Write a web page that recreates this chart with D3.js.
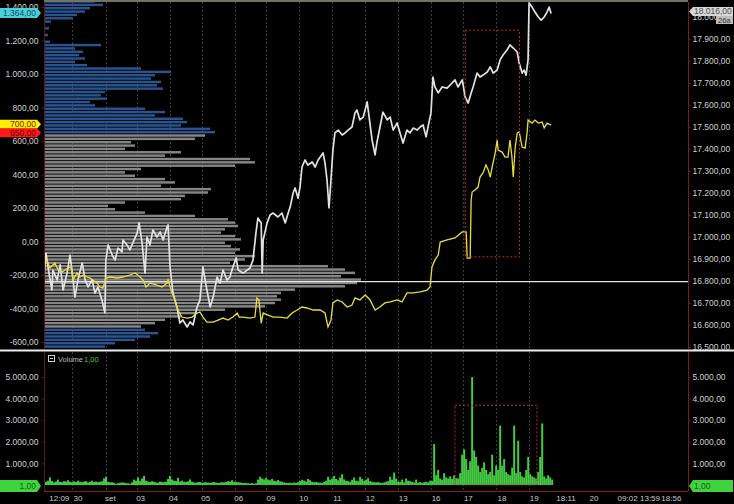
<!DOCTYPE html>
<html><head><meta charset="utf-8">
<script src="https://cdn.jsdelivr.net/npm/d3@7"></script>
<style>
html,body{margin:0;padding:0;background:#000;}
svg{display:block;font-family:"Liberation Sans",Arial,sans-serif;}
</style>
</head><body>
<svg id="chart" width="734" height="504"></svg>
<script>
// ---- price series (time in session units, value in index points) ----
const whiteT = [0,0.06,0.12,0.24,0.27,0.40,0.49,0.58,0.70,0.79,0.85,0.94,1.03,1.16,1.25,1.34,1.46,1.55,1.64,1.76,1.85,1.88,1.95,2.07,2.16,2.25,2.37,2.40,2.52,2.61,2.71,2.83,2.89,2.98,3.07,3.13,3.22,3.31,3.43,3.53,3.62,3.74,3.77,3.83,3.92,4.04,4.13,4.22,4.35,4.44,4.53,4.65,4.74,4.83,4.95,5.05,5.14,5.26,5.35,5.44,5.56,5.65,5.74,5.84,5.90,6.05,6.26,6.35,6.44,6.50,6.60,6.63,6.66,6.78,6.87,6.96,7.11,7.23,7.33,7.42,7.48,7.57,7.63,7.72,7.78,7.84,7.93,8.02,8.15,8.24,8.33,8.48,8.54,8.60,8.66,8.72,8.78,8.84,8.94,9.06,9.15,9.24,9.36,9.45,9.51,9.60,9.70,9.82,9.88,9.97,10.06,10.12,10.21,10.30,10.43,10.52,10.61,10.73,10.82,10.91,11.03,11.12,11.22,11.34,11.43,11.52,11.61,11.67,11.76,11.82,11.88,11.98,12.10,12.25,12.40,12.49,12.58,12.71,12.80,12.89,12.98,13.04,13.16,13.25,13.34,13.47,13.56,13.65,13.77,13.86,13.95,14.07,14.16,14.26,14.38,14.44,14.53,14.59,14.65,14.71,14.74,14.83,14.92,15.02,15.11,15.20,15.29,15.35,15.41];
const whiteV = [16818,16927,16864,16759,16850,16805,16873,16759,16836,16918,16850,16727,16805,16882,16805,16773,16805,16745,16773,16714,16655,16895,16964,16918,16895,16950,16932,16986,16964,16941,16977,17018,17064,16973,16836,17000,16964,17032,17000,17023,16986,17045,17055,16864,16745,16682,16609,16623,16591,16614,16600,16682,16714,16864,16759,16682,16727,16818,16791,16850,16805,16818,16864,16905,16850,16836,16859,16895,17018,17086,17064,16836,16986,17064,17100,17109,17091,17109,17064,17109,17136,17200,17223,17177,17227,17318,17350,17327,17341,17318,17350,17382,17336,17259,17132,17259,17395,17473,17486,17464,17473,17486,17500,17564,17577,17532,17545,17614,17545,17441,17373,17432,17500,17568,17532,17545,17486,17518,17473,17427,17486,17473,17495,17486,17500,17509,17455,17500,17564,17727,17682,17655,17682,17677,17700,17714,17682,17714,17636,17609,17655,17682,17745,17727,17736,17750,17773,17745,17759,17805,17827,17850,17873,17859,17841,17791,17745,17759,17736,17805,18064,18045,18023,18000,17986,18000,18023,18045,18016];

// ---- spread series (left scale) ----
const yellowT = [0,0.09,0.18,0.33,0.43,0.55,0.64,0.73,0.82,0.88,1.00,1.09,1.19,1.31,1.40,1.49,1.61,1.70,1.79,1.88,2.01,2.22,2.40,2.61,2.77,2.92,3.01,3.10,3.22,3.43,3.59,3.74,3.77,3.89,3.98,4.07,4.19,4.35,4.50,4.65,4.74,4.83,4.95,5.14,5.29,5.44,5.59,5.74,5.87,5.93,6.05,6.26,6.41,6.47,6.53,6.60,6.66,6.81,6.96,7.17,7.39,7.54,7.69,7.84,7.99,8.18,8.39,8.54,8.63,8.72,8.78,8.91,9.06,9.21,9.36,9.45,9.60,9.76,9.91,10.06,10.21,10.36,10.52,10.73,10.88,11.03,11.22,11.43,11.64,11.73,11.79,11.88,11.98,12.04,12.25,12.49,12.71,12.83,12.86,12.95,12.98,13.01,13.10,13.19,13.25,13.34,13.43,13.50,13.56,13.62,13.71,13.77,13.80,13.92,14.01,14.10,14.16,14.22,14.26,14.32,14.38,14.44,14.53,14.62,14.68,14.71,14.83,14.92,15.02,15.14,15.20,15.29,15.41];
const yellowV = [-122,-110,-158,-128,-170,-182,-170,-158,-152,-230,-188,-212,-200,-212,-218,-230,-248,-272,-278,-218,-212,-218,-212,-200,-188,-212,-230,-272,-248,-260,-272,-248,-230,-307,-349,-409,-451,-457,-451,-427,-421,-451,-481,-481,-469,-457,-469,-451,-427,-451,-451,-457,-451,-337,-349,-487,-427,-439,-451,-451,-457,-427,-409,-391,-397,-409,-409,-427,-510,-469,-367,-349,-361,-391,-379,-337,-349,-319,-349,-409,-391,-367,-361,-349,-361,-307,-307,-301,-290,-272,-152,-110,-81,-3,9,21,57,57,-99,-99,248,295,307,325,385,409,457,427,385,445,528,606,546,534,504,504,606,504,385,564,648,654,564,558,648,725,707,725,707,713,678,707,695];

// ---- volume profile: levels (top of each 20-point row) and traded lots ----
const profileTop = 1440;
const profileStep = 20;
const profileLots = [50,58,45,40,32,28,6,0,4,0,3,0,5,56,30,38,34,40,30,42,96,126,110,106,116,112,118,60,56,62,45,50,100,120,110,138,142,136,165,170,
  160,150,86,90,80,136,120,205,210,190,96,80,90,120,130,116,166,163,140,136,80,63,70,100,150,183,190,193,180,176,190,196,180,186,195,190,210,200,185,283,300,310,296,316,312,300,250,236,232,236,230,220,180,150,136,120,110,96,
  100,113,105,90,70,60];
const valueAreaHigh = 640;
const valueAreaLow = -500;
const pocLevel = -240;

// ---- volume bars (one bar per volumeStep time units) ----
const volumeStep = 0.0608;
const volume = [
 150,200,350,180,120,160,250,140,130,180,
 160,220,150,130,170,140,200,150,130,160,
 180,120,150,200,140,160,130,150,170,300,
 380,150,120,130,100,60,80,100,120,110,
 90,80,60,120,250,200,350,180,300,420,
 200,160,140,180,150,120,110,160,140,130,
 150,280,420,250,200,180,330,160,200,150,
 140,170,260,150,120,110,130,140,100,120,
 130,110,100,120,140,110,90,110,130,120,
 140,180,160,220,150,140,130,120,100,90,
 100,80,70,90,60,80,250,380,300,260,
 320,250,220,280,200,180,230,170,150,120,
 100,90,110,80,120,100,130,180,240,200,
 160,280,220,150,130,140,120,110,100,150,
 200,380,250,300,420,280,220,350,500,260,
 200,180,150,240,350,200,180,380,280,200,
 250,320,180,150,130,120,140,100,90,120,
 150,180,380,250,580,300,160,140,250,120,
 300,200,180,150,120,250,110,140,100,130,
 150,120,200,180,1900,450,700,300,250,550,
 350,300,400,280,450,320,300,550,1400,1650,
 1200,700,1100,5000,1600,1300,900,600,800,1050,
 700,500,600,1400,450,900,700,2750,900,1200,
 600,500,450,800,2750,550,2050,600,400,350,
 700,1300,500,400,350,300,600,1300,2850,400,
 300,450,350,250];

// ---- time axis ----
const dayLinesT = [0.85,1.88,2.82,3.82,4.79,5.79,6.76,7.76,8.76,9.76,10.76,11.76,12.73,13.73,14.73];
const timeTickT = [0.45,1.02,2.0,2.92,3.92,4.9,5.9,6.88,7.88,8.9,9.9,10.9,11.9,12.88,13.9,14.88,15.85,16.7,17.72,18.4,19.05];
const timeTickLabels = ["12:09","30","set","03","04","05","06","09","10","11","12","13","16","17","18","19","18:11","20","09:02","13:59","18:56"];

// ---- axis ticks ----
const leftTicks = [1400,1200,1000,800,600,400,200,0,-200,-400,-600];
const rightTicks = [16500,16600,16700,16800,16900,17000,17100,17200,17300,17400,17500,17600,17700,17800,17900,18000];
const volumeTicks = [1000,2000,3000,4000,5000];

// ---- highlighted zones ----
const zoneT = [12.8, 14.45];
const zoneIndex = [16910, 17940];
const zoneVolumeT = [12.49, 14.98];
const zoneVolume = [0, 3690];

// ---- marker labels ----
const whiteLast = 18016;
const whiteMarkLeft = 1364;
const yellowMark = 700;
const redMark = 650;

const svg = d3.select("#chart");
const X0 = 44, X1 = 688;
const x = d3.scaleLinear().domain([0, 19.57]).range([X0, X1]);
const yL = d3.scaleLinear().domain([-600, 1400]).range([342, 7]);
const yR = d3.scaleLinear().domain([16500, 17900]).range([347, 39]);
const yV = d3.scaleLinear().domain([0, 5000]).range([485, 377]);
const profW = d3.scaleLinear().domain([0, 400]).range([0, 400]);

const loc = d3.formatLocale({decimal: ",", thousands: ".", grouping: [3], currency: ["", ""], minus: "-"});
const fmt = loc.format(",.2f");

svg.append("rect").attr("width", 734).attr("height", 504).attr("fill", "#000");

const defs = svg.append("defs");
defs.append("clipPath").attr("id", "mainClip").append("rect")
  .attr("x", X0 + 1).attr("y", 2).attr("width", X1 - X0 - 1).attr("height", 347);

const MAIN_TOP = 2, MAIN_BOT = 349, VOL_TOP = 352, VOL_BOT = 491;

// day separators
const grid = svg.append("g").attr("stroke", "#3c3c3c").attr("stroke-dasharray", "2,2").attr("stroke-width", 1);
dayLinesT.forEach(t => {
  const xx = Math.round(x(t)) + 0.5;
  grid.append("line").attr("x1", xx).attr("x2", xx).attr("y1", MAIN_TOP).attr("y2", MAIN_BOT);
  grid.append("line").attr("x1", xx).attr("x2", xx).attr("y1", VOL_TOP).attr("y2", VOL_BOT);
});

// volume profile
const main = svg.append("g").attr("clip-path", "url(#mainClip)");
main.append("g").selectAll("rect")
  .data(profileLots.map((v, i) => ({lvl: profileTop - i * profileStep, v})))
  .join("rect")
  .attr("x", X0 + 1)
  .attr("y", d => yL(d.lvl))
  .attr("height", d => yL(d.lvl - profileStep) - yL(d.lvl) - 0.9)
  .attr("width", d => profW(d.v))
  .attr("fill", d => (d.lvl > valueAreaHigh || d.lvl < valueAreaLow) ? "#2a5490" : "#858585");

// point of control
main.append("line").attr("x1", X0).attr("x2", X1)
  .attr("y1", yL(pocLevel)).attr("y2", yL(pocLevel))
  .attr("stroke", "#e4e4e4").attr("stroke-width", 1.3);

// price lines
const whiteLine = d3.line().x(d => x(d[0])).y(d => yR(d[1]));
main.append("path").datum(whiteT.map((t, i) => [t, whiteV[i]]))
  .attr("d", whiteLine).attr("fill", "none").attr("stroke", "#e2e2e2").attr("stroke-width", 1.7)
  .attr("stroke-linejoin", "round");
const yellowLine = d3.line().x(d => x(d[0])).y(d => yL(d[1]));
main.append("path").datum(yellowT.map((t, i) => [t, yellowV[i]]))
  .attr("d", yellowLine).attr("fill", "none").attr("stroke", "#e6df3a").attr("stroke-width", 1.3);

// highlighted zone
main.append("rect")
  .attr("x", x(zoneT[0])).attr("y", yR(zoneIndex[1]))
  .attr("width", x(zoneT[1]) - x(zoneT[0])).attr("height", yR(zoneIndex[0]) - yR(zoneIndex[1]))
  .attr("fill", "none").attr("stroke", "#c42a2a").attr("stroke-dasharray", "2,2");

// volume bars
const bw = x(volumeStep) - x(0);
svg.append("g").selectAll("rect").data(volume).join("rect")
  .attr("x", (d, i) => x(i * volumeStep) + 1)
  .attr("y", d => yV(d))
  .attr("width", bw)
  .attr("height", d => yV(0) - yV(d))
  .attr("fill", "#44c944");
svg.append("rect")
  .attr("x", x(zoneVolumeT[0])).attr("y", yV(zoneVolume[1]))
  .attr("width", x(zoneVolumeT[1]) - x(zoneVolumeT[0])).attr("height", yV(zoneVolume[0]) - yV(zoneVolume[1]))
  .attr("fill", "none").attr("stroke", "#c42a2a").attr("stroke-dasharray", "2,2");

// frame lines
svg.append("line").attr("x1", X0).attr("x2", X1).attr("y1", 1).attr("y2", 1).attr("stroke", "#9a9a88").attr("stroke-width", 1.5);
svg.append("line").attr("x1", 0).attr("x2", 734).attr("y1", 350.5).attr("y2", 350.5).attr("stroke", "#ececec").attr("stroke-width", 2);
svg.append("line").attr("x1", X0).attr("x2", X1).attr("y1", VOL_BOT + 0.5).attr("y2", VOL_BOT + 0.5).attr("stroke", "#8a1c1c");

function styleAxis(g, color) {
  g.select(".domain").attr("stroke", color);
  g.selectAll(".tick line").attr("stroke", color);
  g.selectAll(".tick text").attr("fill", "#cfcfcf").attr("font-size", "8.5px")
    .attr("font-family", "'Liberation Sans', Arial, sans-serif");
}

// left axes
const gL = svg.append("g").attr("transform", `translate(${X0 + 0.5},0)`)
  .call(d3.axisLeft(yL).tickValues(leftTicks).tickFormat(fmt).tickSize(3).tickSizeOuter(0).tickPadding(3));
gL.select(".domain").attr("d", `M0,${MAIN_TOP}V${MAIN_BOT}`);
styleAxis(gL, "#5e1616");
const gVL = svg.append("g").attr("transform", `translate(${X0 + 0.5},0)`)
  .call(d3.axisLeft(yV).tickValues(volumeTicks).tickFormat(fmt).tickSize(3).tickSizeOuter(0).tickPadding(3));
gVL.select(".domain").attr("d", `M0,${VOL_TOP}V${VOL_BOT}`);
styleAxis(gVL, "#5e1616");

// right axes
const gR = svg.append("g").attr("transform", `translate(${X1 + 0.5},0)`)
  .call(d3.axisRight(yR).tickValues(rightTicks).tickFormat(fmt).tickSize(2).tickSizeOuter(0).tickPadding(2));
gR.select(".domain").attr("d", `M0,${MAIN_TOP}V${MAIN_BOT}`);
styleAxis(gR, "#7a1c1c");
const gVR = svg.append("g").attr("transform", `translate(${X1 + 0.5},0)`)
  .call(d3.axisRight(yV).tickValues(volumeTicks).tickFormat(fmt).tickSize(2).tickSizeOuter(0).tickPadding(2));
gVR.select(".domain").attr("d", `M0,${VOL_TOP}V${VOL_BOT}`);
styleAxis(gVR, "#7a1c1c");

// time axis
const gT = svg.append("g").attr("transform", `translate(0,${VOL_BOT + 1})`)
  .call(d3.axisBottom(x).tickValues(timeTickT).tickFormat((d, i) => timeTickLabels[i]).tickSize(0).tickPadding(3));
gT.select(".domain").remove();
gT.selectAll(".tick text").attr("fill", "#c8c8c8").attr("font-size", "8px");

// value tags
function tagLeft(yc, text, bg, fg, h) {
  const g = svg.append("g");
  g.append("path").attr("d", `M0,${yc - h / 2}H37L41,${yc}L37,${yc + h / 2}H0Z`).attr("fill", bg);
  g.append("text").attr("x", 36).attr("y", yc + 3).attr("text-anchor", "end")
    .attr("font-size", "8.5px").attr("fill", fg).text(text);
}
function tagRight(yc, text, bg, fg, h) {
  const g = svg.append("g");
  g.append("path").attr("d", `M${X1 + 1},${yc}L${X1 + 5},${yc - h / 2}H733V${yc + h / 2}H${X1 + 5}Z`).attr("fill", bg);
  g.append("text").attr("x", X1 + 6).attr("y", yc + 3)
    .attr("font-size", "8.5px").attr("fill", fg).text(text);
}
tagLeft(yL(whiteMarkLeft), fmt(whiteMarkLeft), "#46d2da", "#1d4a66", 10);
tagLeft(yL(yellowMark), fmt(yellowMark), "#fff000", "#7a1a00", 9);
tagLeft(yL(redMark), fmt(redMark), "#ff1a1a", "#6a0000", 9);
tagRight(yR(whiteLast) - 2, fmt(whiteLast), "#d6d6d6", "#505050", 9);
svg.append("rect").attr("x", 716).attr("y", 16).attr("width", 17).attr("height", 8).attr("fill", "#bdbdbd");
svg.append("text").attr("x", 718).attr("y", 23).attr("font-size", "7.5px").attr("fill", "#333").text("26a");
tagLeft(yV(0) + 1, fmt(1), "#3fd43f", "#1b5e1b", 12);
tagRight(yV(0) + 1, fmt(1), "#3fd43f", "#1b5e1b", 12);

// volume legend
svg.append("rect").attr("x", 48.5).attr("y", 355.5).attr("width", 6).attr("height", 6)
  .attr("fill", "none").attr("stroke", "#cfcfcf");
svg.append("line").attr("x1", 50).attr("x2", 53).attr("y1", 358.5).attr("y2", 358.5).attr("stroke", "#cfcfcf");
svg.append("text").attr("x", 58).attr("y", 362).attr("font-size", "7.5px").attr("fill", "#bbbbbb").text("Volume");
svg.append("text").attr("x", 84).attr("y", 362).attr("font-size", "7.5px").attr("fill", "#3fcf3f").text(fmt(1));
</script>
</body></html>
